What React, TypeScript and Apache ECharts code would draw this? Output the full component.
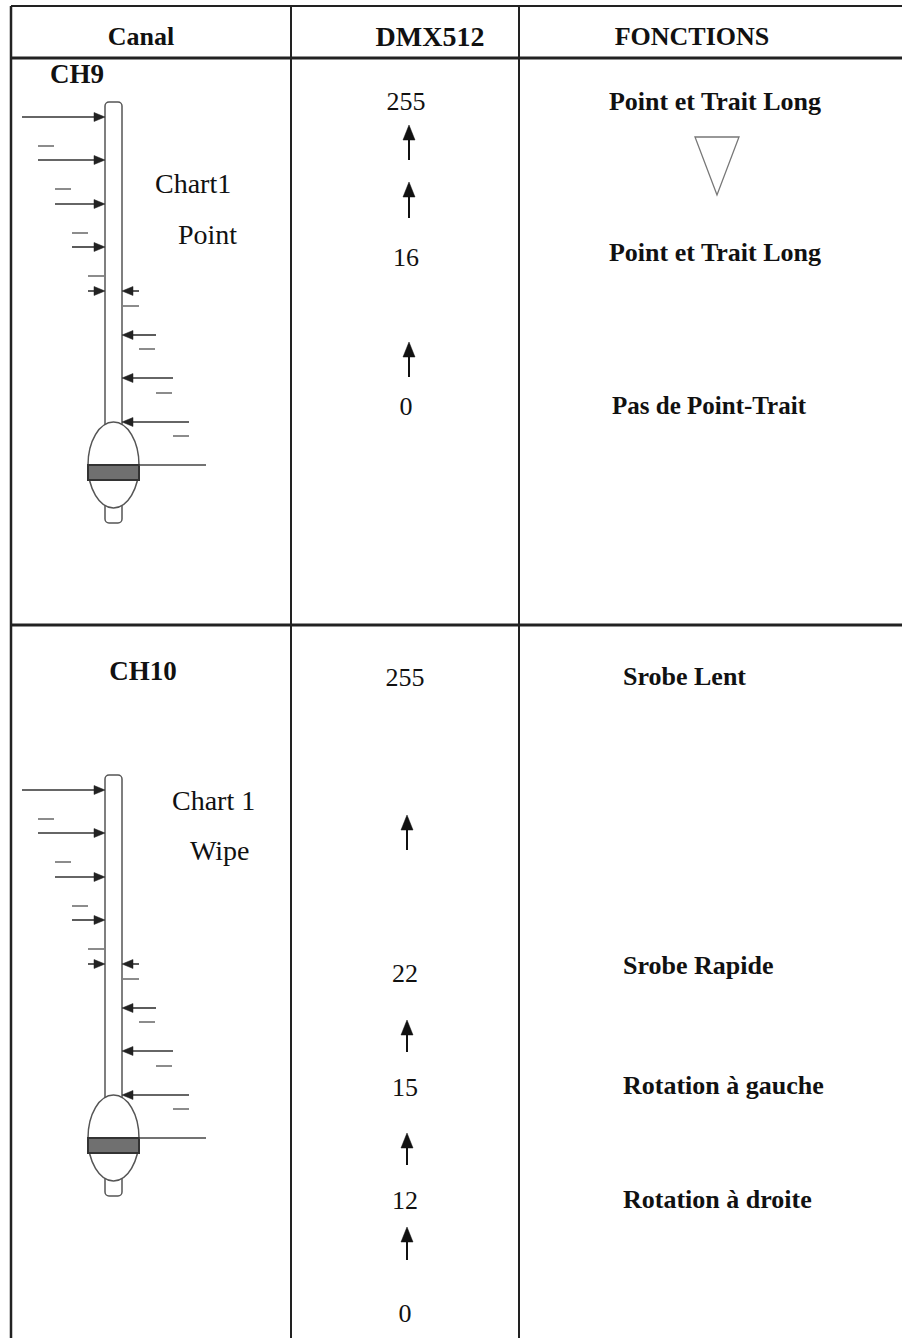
import React, { useEffect, useRef } from "react";
import * as echarts from "echarts";

// ---- content ----
const headers = ["Canal", "DMX512", "FONCTIONS"];
const channels = ["CH9", "CH10"];
const faderLabels = [
  ["Chart1", "Point"],
  ["Chart 1", "Wipe"],
];
const ch9Dmx = ["255", "16", "0"];
const ch10Dmx = ["255", "22", "15", "12", "0"];
const ch9Functions = ["Point et Trait Long", "Point et Trait Long", "Pas de Point-Trait"];
const ch10Functions = ["Srobe Lent", "Srobe Rapide", "Rotation à gauche", "Rotation à droite"];

// ---- layout (pixels) ----
const W = 902;
const H = 1338;
const LEFT = 11;
const TOP = 6;
const COL1 = 291;
const COL2 = 519;
const HEAD_BOTTOM = 58;
const ROW_SEP = 625;
const headerX = [141, 430, 692];
const headerY = 36;
const channelPos = [
  [77, 74],
  [143, 671],
];
const faderTop = [102, 775];
const faderLabelPos = [
  [[155, 183], [178, 234]],
  [[172, 800], [190, 850]],
];
const ch9DmxY = [101, 257, 406];
const ch9Arrows = [
  [125, 160],
  [182, 218],
  [342, 377],
];
const ch10DmxY = [677, 973, 1087, 1200, 1313];
const ch10Arrows = [
  [815, 850],
  [1020, 1052],
  [1133, 1165],
  [1227, 1260],
];
const ch9FuncY = [101, 252, 405];
const ch9FuncX = [715, 715, 709];
const ch10FuncY = [676, 965, 1085, 1199];
const ch10FuncX = 623;

const SERIF = '"Liberation Serif", "Times New Roman", serif';
const INK = "#111";

function text(t: string, x: number, y: number, size: number, bold: boolean, align = "center") {
  return {
    type: "text",
    silent: true,
    style: {
      text: t,
      x,
      y,
      fill: INK,
      fontSize: size,
      fontFamily: SERIF,
      fontWeight: bold ? "bold" : "normal",
      textAlign: align,
      textVerticalAlign: "middle",
    },
  };
}

function line(x1: number, y1: number, x2: number, y2: number, lw = 1.5, color = "#333") {
  return {
    type: "line",
    silent: true,
    shape: { x1, y1, x2, y2 },
    style: { stroke: color, lineWidth: lw },
  };
}

function arrowRight(x0: number, x1: number, y: number) {
  return [
    line(x0, y, x1 - 8, y, 1.6, "#333"),
    {
      type: "polygon",
      silent: true,
      shape: { points: [[x1 - 11, y - 4.5], [x1, y], [x1 - 11, y + 4.5]] },
      style: { fill: "#222", stroke: "#222", lineWidth: 0.5 },
    },
  ];
}

function arrowLeft(x0: number, x1: number, y: number) {
  return [
    line(x0, y, x1 + 8, y, 1.6, "#333"),
    {
      type: "polygon",
      silent: true,
      shape: { points: [[x1 + 11, y - 4.5], [x1, y], [x1 + 11, y + 4.5]] },
      style: { fill: "#222", stroke: "#222", lineWidth: 0.5 },
    },
  ];
}

function arrowUp(x: number, top: number, bottom: number) {
  return [
    line(x, top + 10, x, bottom, 2, "#111"),
    {
      type: "polygon",
      silent: true,
      shape: { points: [[x - 6, top + 15], [x, top], [x + 6, top + 15]] },
      style: { fill: "#111", stroke: "#111", lineWidth: 0.5 },
    },
  ];
}

function fader(T: number) {
  const els: any[] = [];
  const tubeX = 105;
  const tubeW = 17;
  els.push({
    type: "rect",
    silent: true,
    shape: { x: tubeX, y: T + 390, width: tubeW, height: 31, r: 4 },
    style: { fill: "#fff", stroke: "#555", lineWidth: 1.5 },
  });
  els.push({
    type: "rect",
    silent: true,
    shape: { x: tubeX, y: T, width: tubeW, height: 340, r: 4 },
    style: { fill: "#fff", stroke: "#555", lineWidth: 1.5 },
  });
  els.push({
    type: "ellipse",
    silent: true,
    shape: { cx: 113.5, cy: T + 363, rx: 25.5, ry: 43 },
    style: { fill: "#fff", stroke: "#555", lineWidth: 1.5 },
  });
  els.push({
    type: "rect",
    silent: true,
    shape: { x: 88, y: T + 363, width: 51, height: 15 },
    style: { fill: "#707070", stroke: "#333", lineWidth: 2 },
  });
  els.push(line(139, T + 363, 206, T + 363, 1.4, "#444"));
  const leftArrowY = [15, 58, 102, 145, 189];
  const leftArrowX = [22, 38, 55, 72, 88];
  leftArrowY.forEach((dy, i) => els.push(...arrowRight(leftArrowX[i], tubeX, T + dy)));
  const leftDashY = [44, 87, 131, 174];
  const leftDashX = [38, 55, 72, 88];
  leftDashY.forEach((dy, i) => els.push(line(leftDashX[i], T + dy, leftDashX[i] + 16, T + dy, 1.5, "#666")));
  const rightArrowY = [189, 233, 276, 320];
  const rightArrowX = [139, 156, 173, 189];
  rightArrowY.forEach((dy, i) => els.push(...arrowLeft(rightArrowX[i], tubeX + tubeW, T + dy)));
  const rightDashY = [204, 247, 291, 334];
  const rightDashX = [123, 139, 156, 173];
  rightDashY.forEach((dy, i) => els.push(line(rightDashX[i], T + dy, rightDashX[i] + 16, T + dy, 1.5, "#666")));
  return els;
}

function buildGraphic() {
  const g: any[] = [];
  g.push({
    type: "rect",
    silent: true,
    shape: { x: 0, y: 0, width: W, height: H },
    style: { fill: "#fff" },
  });
  // table lines
  g.push(line(LEFT, TOP, W, TOP, 2, "#222"));
  g.push(line(LEFT, TOP, LEFT, H, 2.5, "#222"));
  g.push(line(LEFT, HEAD_BOTTOM, W, HEAD_BOTTOM, 3, "#222"));
  g.push(line(LEFT, ROW_SEP, W, ROW_SEP, 3, "#222"));
  g.push(line(COL1, TOP, COL1, H, 2, "#222"));
  g.push(line(COL2, TOP, COL2, H, 2, "#222"));

  // headers
  headers.forEach((h, i) => g.push(text(h, headerX[i], headerY, i === 1 ? 28 : 26, true)));

  // channels
  channels.forEach((c, i) => g.push(text(c, channelPos[i][0], channelPos[i][1], 27, true)));

  // faders
  faderTop.forEach((t) => g.push(...fader(t)));
  faderLabels.forEach((labels, i) =>
    labels.forEach((l, j) =>
      g.push(text(l, faderLabelPos[i][j][0], faderLabelPos[i][j][1], 28, false, "left"))
    )
  );

  // DMX values
  ch9Dmx.forEach((v, i) => g.push(text(v, 406, ch9DmxY[i], 26, false)));
  ch9Arrows.forEach((a) => g.push(...arrowUp(409, a[0], a[1])));
  ch10Dmx.forEach((v, i) => g.push(text(v, 405, ch10DmxY[i], 26, false)));
  ch10Arrows.forEach((a) => g.push(...arrowUp(407, a[0], a[1])));

  // functions
  ch9Functions.forEach((f, i) => g.push(text(f, ch9FuncX[i], ch9FuncY[i], i === 2 ? 25 : 26, true)));
  g.push({
    type: "polygon",
    silent: true,
    shape: { points: [[695, 137], [739, 137], [717, 195]] },
    style: { fill: "none", stroke: "#777", lineWidth: 1.3 },
  });
  ch10Functions.forEach((f, i) => g.push(text(f, ch10FuncX, ch10FuncY[i], 26, true, "left")));
  return g;
}

export default function App() {
  const ref = useRef<HTMLDivElement>(null);
  useEffect(() => {
    if (!ref.current) return;
    const chart = echarts.init(ref.current, undefined, { renderer: "svg" });
    chart.setOption({
      animation: false,
      backgroundColor: "#fff",
      graphic: { elements: buildGraphic() },
    });
    return () => chart.dispose();
  }, []);
  return (
    <div
      ref={ref}
      style={{ position: "absolute", left: 0, top: 0, width: W, height: H, background: "#fff" }}
    />
  );
}
